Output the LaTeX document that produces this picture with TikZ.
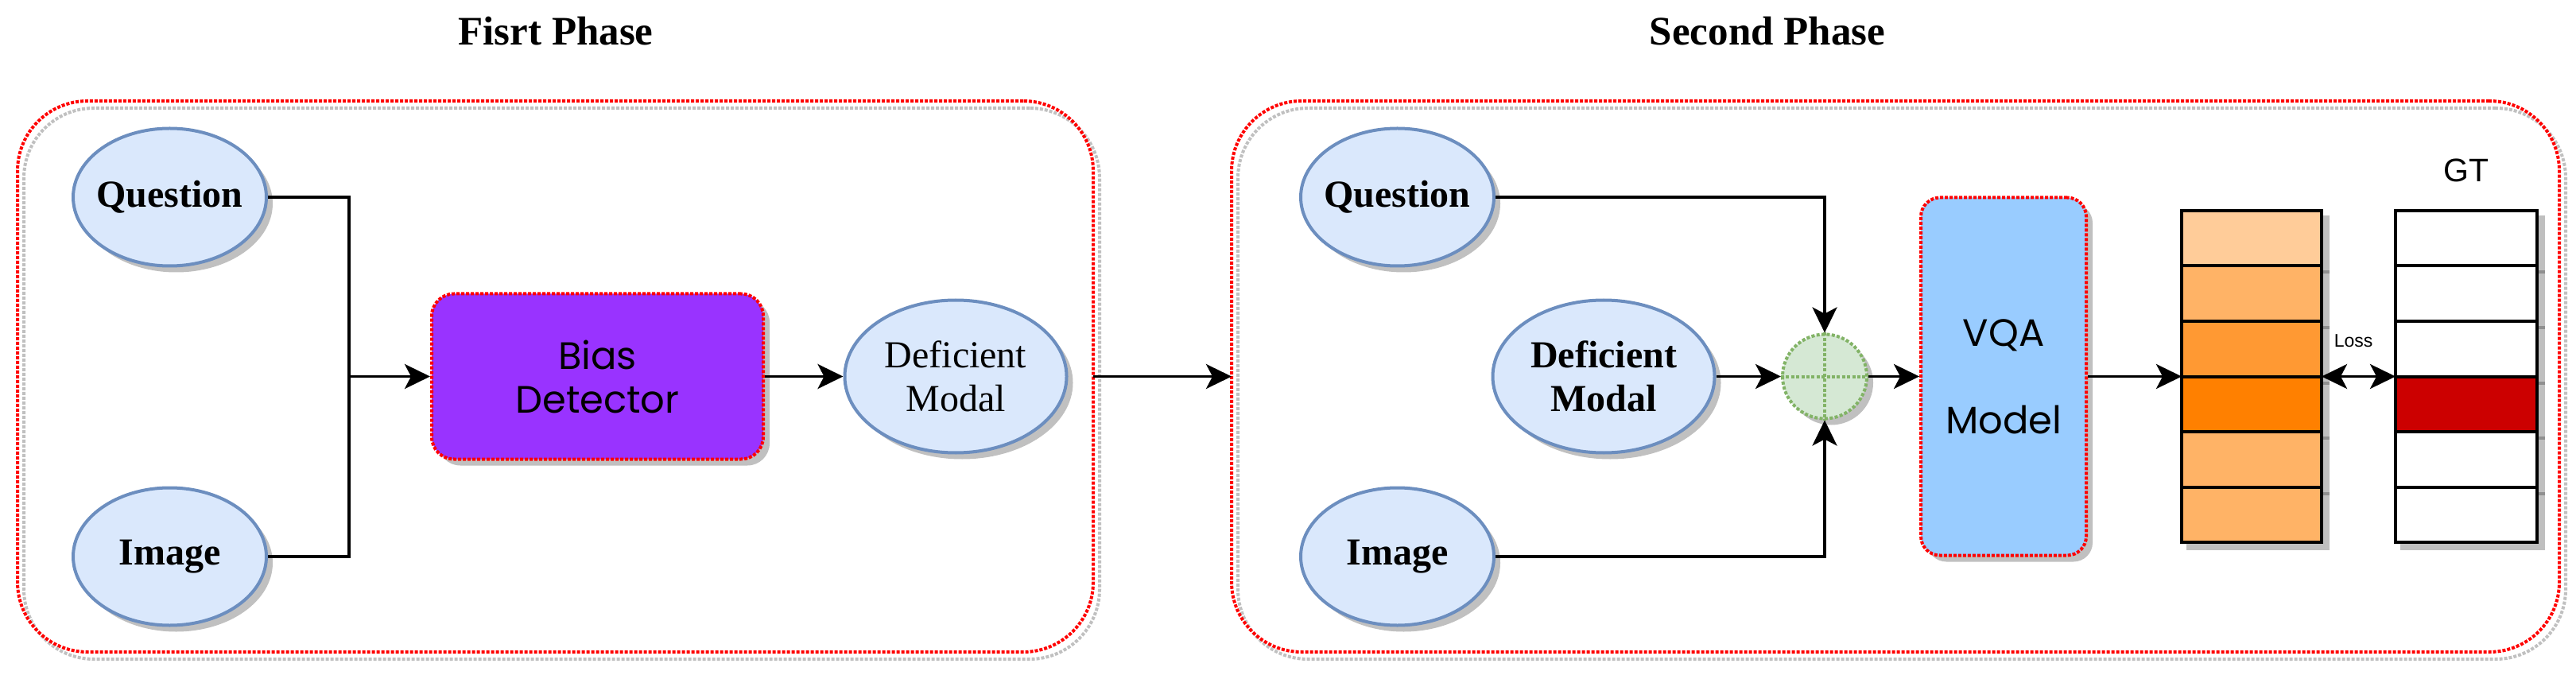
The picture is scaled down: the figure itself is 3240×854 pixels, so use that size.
\documentclass[tikz,border=0pt]{standalone}
\usepackage{fontspec}
\setmainfont{Liberation Serif}
\newfontfamily\comicf{Poppins}
\newfontfamily\helvf{Liberation Sans}
\usetikzlibrary{shapes.geometric,arrows.meta,shadows}

\definecolor{ellfill}{HTML}{DAE8FC}
\definecolor{ellline}{HTML}{6C8EBF}
\definecolor{shgray}{HTML}{C0C0C0}
\definecolor{purp}{HTML}{9933FF}
\definecolor{vqablue}{HTML}{99CCFF}
\definecolor{grfill}{HTML}{D5E8D4}
\definecolor{grline}{HTML}{82B366}
\definecolor{or1}{HTML}{FFCC99}
\definecolor{or2}{HTML}{FFB366}
\definecolor{or3}{HTML}{FF9933}
\definecolor{or4}{HTML}{FF8000}
\definecolor{gtred}{HTML}{CC0000}

\begin{document}
\begin{tikzpicture}[x=0.25pt,y=-0.25pt,
  >={Stealth[length=8pt,width=7.75pt,inset=2pt]},
  conn/.style={line width=0.9pt},
  redot/.style={draw=red, line width=1pt, dash pattern=on 1pt off 0.5pt},
  panelbox/.style={redot, rectangle, rounded corners=22pt, inner sep=0pt, outer sep=0pt,
     minimum width=#1, minimum height=173.25pt,
     preaction={draw=shgray, fill=none, line width=1pt, dash pattern=on 1pt off 0.5pt,
       transform canvas={xshift=2pt,yshift=-2.25pt}}},
  shad/.style={drop shadow={shadow xshift=2pt, shadow yshift=-2pt, fill=shgray, opacity=1}},
  ellip/.style={ellipse, draw=ellline, fill=ellfill, line width=1pt, inner sep=0pt,
     minimum width=60.75pt, minimum height=43.25pt, shad},
  defell/.style={ellip, minimum width=69.75pt, minimum height=48pt},
  lblb/.style={font=\bfseries\fontsize{12}{13.75}\selectfont, align=center, inner sep=0pt},
  lblr/.style={font=\fontsize{12}{13.75}\selectfont, align=center, inner sep=0pt},
  procbox/.style={rectangle, redot, shad, inner sep=0pt, align=center},
  cell/.style={rectangle, draw=black, line width=1pt, inner sep=0pt, outer sep=0pt,
     minimum height=17.375pt},
  title/.style={anchor=base, font=\bfseries\fontsize{12.75}{15}\selectfont, inner sep=0pt}
]
\useasboundingbox (0,0) rectangle (3240,854);

% titles
\node[title] (t1) at (699,57) {Fisrt Phase};
\node[title] (t2) at (2223,57) {Second Phase};

% panels
\node[panelbox=338.25pt] (panel1) at (698.5,473.5) {};
\node[panelbox=417.5pt] (panel2) at (2384,473.5) {};

% ---- first phase
\node[ellip, label={[lblb]center:Question}] (q1) at (213.5,248) {};
\node[ellip, label={[lblb]center:Image}] (im1) at (213.5,700) {};
\node[procbox, fill=purp, rounded corners=7pt, minimum width=104.25pt, minimum height=52pt,
      font=\comicf\fontsize{12}{13.75}\selectfont] (bias) at (751.5,473.5) {Bias\\Detector};
\node[defell, label={[lblr]center:{Deficient\\Modal}}] (dm1) at (1202,473.5) {};

\coordinate (j1) at (439,473.5);
\draw[conn] (q1.east) -| (j1);
\draw[conn] (im1.east) -| (j1);
\draw[conn,->] (j1) -- (bias.west);
\draw[conn,->] (bias.east) -- (dm1.west);

% between phases
\draw[conn,->] (panel1.east) -- (panel2.west);

% ---- second phase
\node[ellip, label={[lblb]center:Question}] (q2) at (1757.5,248) {};
\node[ellip, label={[lblb]center:Image}] (im2) at (1757.5,700) {};
\node[defell, label={[lblb]center:{Deficient\\Modal}}] (dm2) at (2017,473.5) {};
\node[circle, draw=grline, fill=grfill, line width=1pt, dash pattern=on 1pt off 0.6pt,
      minimum size=26.5pt, inner sep=0pt, shad] (plus) at (2295,473.5) {};
\draw[grline, line width=1pt, dash pattern=on 1pt off 0.6pt] (plus.north) -- (plus.south);
\draw[grline, line width=1pt, dash pattern=on 1pt off 0.6pt] (plus.west) -- (plus.east);
\node[procbox, fill=vqablue, rounded corners=6pt, minimum width=52pt, minimum height=112.5pt,
      font=\comicf\fontsize{12}{27.5}\selectfont] (vqa) at (2520,473.5) {VQA\\Model};

\draw[conn,->] (q2.east) -| (plus.north);
\draw[conn,->] (im2.east) -| (plus.south);
\draw[conn,->] (dm2.east) -- (plus.west);
\draw[conn,->] (plus.east) -- (vqa.west);

% shadows of the cells
\foreach \i in {1,...,6} {
  \fill[black,opacity=0.25] ({2744-2+8},{265+69.5*(\i-1)-2+8}) rectangle ({2920+2+8},{265+69.5*\i+2+8});
  \fill[black,opacity=0.25] ({3013-2+8},{265+69.5*(\i-1)-2+8}) rectangle ({3191+2+8},{265+69.5*\i+2+8});
}
% prediction cells
\foreach \i/\c in {1/or1,2/or2,3/or3,4/or4,5/or2,6/or2} {
  \node[cell, fill=\c, minimum width=44pt] (p\i) at (2832,{265+69.5*(\i-0.5)}) {};
}
% ground-truth cells
\foreach \i/\c in {1/white,2/white,3/white,4/gtred,5/white,6/white} {
  \node[cell, fill=\c, minimum width=44.5pt] (g\i) at (3102,{265+69.5*(\i-0.5)}) {};
}

\draw[conn,->] (vqa.east) -- (p3.south west);
\draw[conn,<->] (p3.south east) -- (g3.south west);
\node[anchor=base, inner sep=0pt, font=\helvf\fontsize{5.75}{6.9}\selectfont] (loss) at (2960,437) {Loss};
\node[anchor=base, inner sep=0pt, font=\helvf\fontsize{10.25}{12}\selectfont] (gt) at (3102,229) {GT};

\end{tikzpicture}
\end{document}
